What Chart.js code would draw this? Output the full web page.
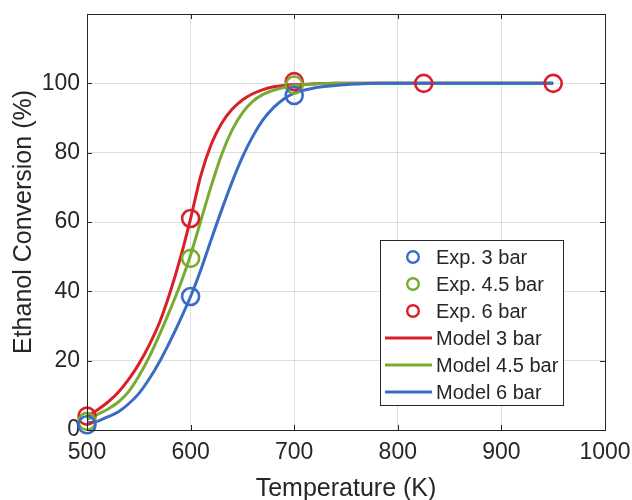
<!DOCTYPE html>
<html>
<head>
<meta charset="utf-8">
<script src="https://cdn.jsdelivr.net/npm/chart.js@4.4.1/dist/chart.umd.min.js"></script>
<style>
  html, body { margin: 0; padding: 0; background: #fff; }
  #wrap { width: 632px; height: 500px; }
</style>
</head>
<body>
<div id="wrap"><canvas id="conv"></canvas></div>
<script>
// measured points
const expTemps3 = [500, 600, 700];
const exp3 = [1.5, 38.5, 96.5];
const expTemps45 = [500, 600, 700];
const exp45 = [2.5, 49.5, 99.5];
const expTemps6 = [500, 600, 700, 825, 950];
const exp6 = [4, 61, 100.5, 100, 100];

// model curves
const modelTemps = [500, 510, 520, 530, 540, 550, 560, 570, 580, 590, 600, 610, 620, 630, 640, 650, 660, 670, 680, 690, 700, 720, 740, 760, 780, 800, 850, 900, 950];
const model3 = [4, 5.8, 8, 10.8, 14.5, 19, 24.5, 31, 39.5, 49.5, 61, 73.5, 82.5, 88.5, 92.5, 95.2, 97, 98.2, 99, 99.4, 99.6, 99.9, 100, 100, 100, 100, 100, 100, 100];
const model45 = [3, 4.5, 6, 8, 11, 15.5, 21, 27.5, 34.5, 42, 50.5, 60.5, 70.5, 79.5, 86.5, 91.5, 94.8, 96.8, 98, 98.8, 99.3, 99.8, 100, 100, 100, 100, 100, 100, 100];
const model6 = [2, 2.5, 3.8, 5.2, 7.5, 10.5, 14.7, 19.7, 25.5, 31.8, 38.5, 46.3, 55, 63.5, 71.5, 78.7, 84.7, 89.5, 93, 95.5, 97.2, 98.7, 99.4, 99.8, 100, 100, 100, 100, 100];

const xTicks = [500, 600, 700, 800, 900, 1000];
const yTicks = [0, 20, 40, 60, 80, 100];

const BLUE = "#3a6cc6";
const GREEN = "#77ac30";
const RED = "#d9202a";
const INK = "#262626";
const FONT = "'Liberation Sans', Arial, Helvetica, sans-serif";

const pts = (xs, ys) => xs.map((x, i) => ({ x: x, y: ys[i] }));

function expSet(label, xs, ys, color) {
  return {
    label: label,
    data: pts(xs, ys),
    showLine: false,
    pointStyle: "circle",
    pointRadius: 8.5,
    pointHoverRadius: 8.5,
    pointBorderWidth: 2.6,
    pointBorderColor: color,
    pointBackgroundColor: "rgba(0,0,0,0)",
    borderColor: color,
    clip: false,
    order: 0,
    kind: "exp",
  };
}

function modelSet(label, ys, color, order) {
  return {
    label: label,
    data: pts(modelTemps, ys),
    showLine: true,
    borderColor: color,
    borderWidth: 3,
    pointRadius: 0,
    pointHoverRadius: 0,
    cubicInterpolationMode: "monotone",
    clip: false,
    order: order,
    kind: "model",
  };
}

// box, inward ticks and the legend inside the plot
const framePlugin = {
  id: "frame",
  afterDatasetsDraw(chart) {
    const ctx = chart.ctx;
    const a = chart.chartArea;
    const xs = chart.scales.x;
    const ys = chart.scales.y;
    ctx.save();
    ctx.strokeStyle = INK;
    ctx.lineWidth = 1;
    ctx.strokeRect(Math.round(a.left) + 0.5, Math.round(a.top) + 0.5,
      Math.round(a.right - a.left), Math.round(a.bottom - a.top));
    const tl = 5;
    ctx.beginPath();
    xTicks.forEach((v) => {
      const px = Math.round(xs.getPixelForValue(v)) + 0.5;
      ctx.moveTo(px, a.bottom); ctx.lineTo(px, a.bottom - tl);
      ctx.moveTo(px, a.top); ctx.lineTo(px, a.top + tl);
    });
    yTicks.forEach((v) => {
      const py = Math.round(ys.getPixelForValue(v)) + 0.5;
      ctx.moveTo(a.left, py); ctx.lineTo(a.left + tl, py);
      ctx.moveTo(a.right, py); ctx.lineTo(a.right - tl, py);
    });
    ctx.stroke();

    // legend
    const bx = 380.5, by = 240.5, bw = 183, bh = 165;
    ctx.fillStyle = "#fff";
    ctx.fillRect(bx, by, bw, bh);
    ctx.strokeRect(bx, by, bw, bh);
    ctx.font = "20px " + FONT;
    ctx.textBaseline = "middle";
    ctx.textAlign = "left";
    chart.data.datasets.forEach((ds, i) => {
      const cy = by + 16.5 + i * 27;
      const color = ds.borderColor;
      if (ds.kind === "exp") {
        ctx.strokeStyle = color;
        ctx.lineWidth = 2.4;
        ctx.beginPath();
        ctx.arc(413, cy, 5.8, 0, Math.PI * 2);
        ctx.stroke();
      } else {
        ctx.strokeStyle = color;
        ctx.lineWidth = 3;
        ctx.beginPath();
        ctx.moveTo(385, cy);
        ctx.lineTo(432, cy);
        ctx.stroke();
      }
      ctx.fillStyle = INK;
      ctx.fillText(ds.label, 436, cy + 1);
    });
    ctx.restore();
  },
};

new Chart(document.getElementById("conv"), {
  type: "scatter",
  data: {
    datasets: [
      expSet("Exp. 3 bar", expTemps3, exp3, BLUE),
      expSet("Exp. 4.5 bar", expTemps45, exp45, GREEN),
      expSet("Exp. 6 bar", expTemps6, exp6, RED),
      modelSet("Model 3 bar", model3, RED, 3),
      modelSet("Model 4.5 bar", model45, GREEN, 2),
      modelSet("Model 6 bar", model6, BLUE, 1),
    ],
  },
  options: {
    responsive: true,
    maintainAspectRatio: false,
    animation: false,
    events: [],
    layout: { padding: { top: 14, right: 27, left: 0, bottom: 0 } },
    plugins: {
      legend: { display: false },
      tooltip: { enabled: false },
    },
    scales: {
      x: {
        type: "linear",
        min: 500,
        max: 1000,
        afterBuildTicks: (s) => { s.ticks = xTicks.map((v) => ({ value: v })); },
        afterFit: (s) => {
          s.height = 70;
          s.paddingLeft = 0;
          s.paddingRight = 0;
        },
        ticks: {
          padding: 9,
          color: INK,
          font: { family: FONT, size: 23 },
          maxRotation: 0,
          callback: (v) => String(v),
        },
        grid: { color: "rgba(38,38,38,0.15)", drawTicks: false },
        border: { display: false },
        title: {
          display: true,
          text: "Temperature (K)",
          color: INK,
          font: { family: FONT, size: 25 },
          padding: { top: 0, bottom: -4 },
        },
      },
      y: {
        type: "linear",
        min: 0,
        max: 120,
        afterBuildTicks: (s) => { s.ticks = yTicks.map((v) => ({ value: v })); },
        afterFit: (s) => {
          s.width = 87;
          s.paddingTop = 0;
          s.paddingBottom = 0;
        },
        ticks: {
          padding: 7,
          color: INK,
          font: { family: FONT, size: 23 },
          callback: (v) => String(v),
        },
        grid: { color: "rgba(38,38,38,0.15)", drawTicks: false },
        border: { display: false },
        title: {
          display: true,
          text: "Ethanol Conversion (%)",
          color: INK,
          font: { family: FONT, size: 25 },
          padding: { top: 9, bottom: 0 },
        },
      },
    },
  },
  plugins: [framePlugin],
});
</script>
</body>
</html>
